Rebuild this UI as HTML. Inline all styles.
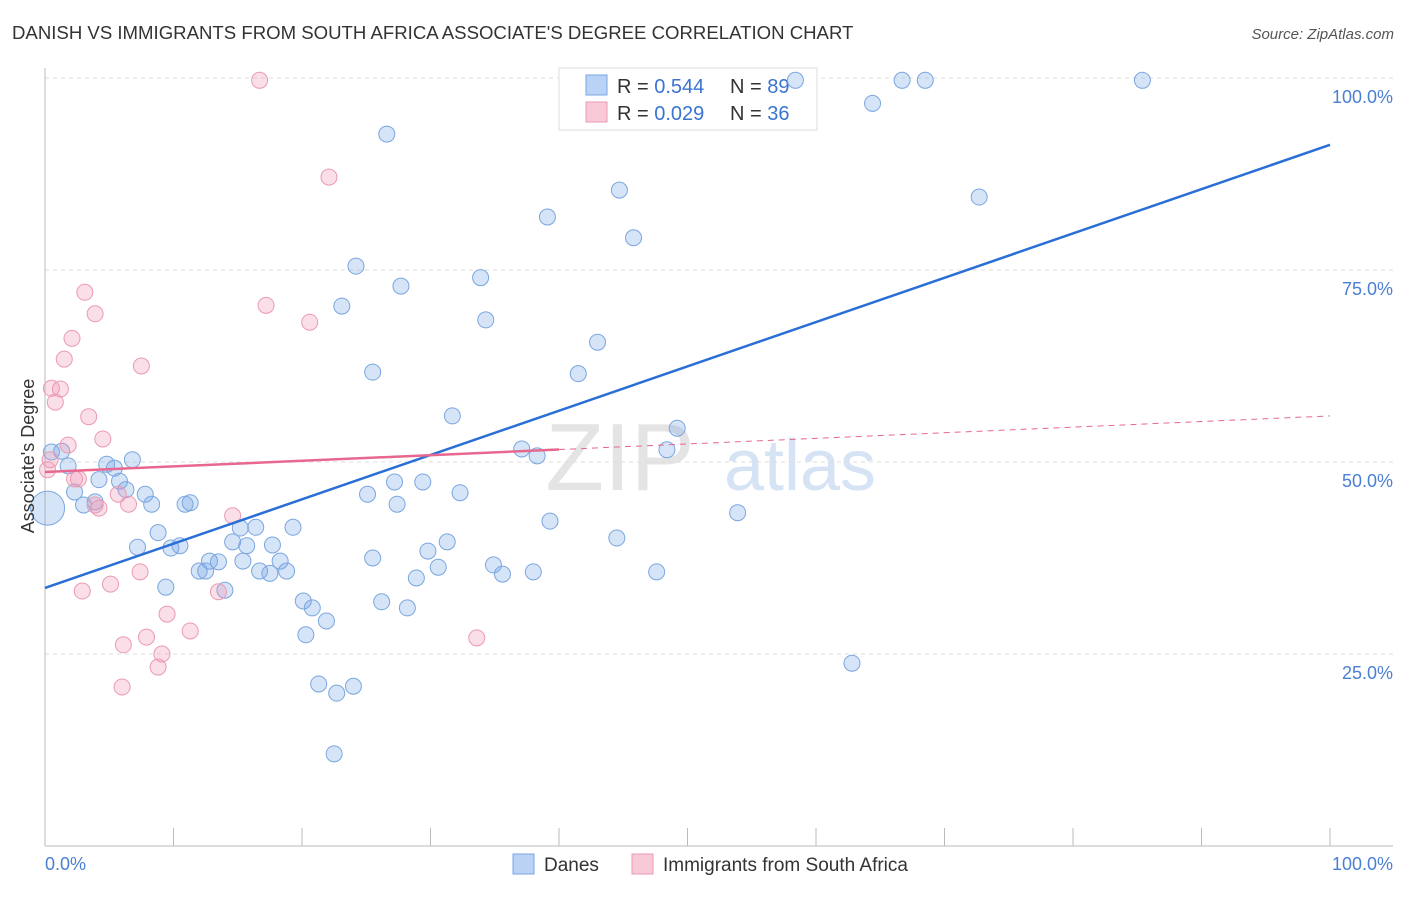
<!DOCTYPE html>
<html><head><meta charset="utf-8"><style>
body{margin:0;background:#fff;font-family:"Liberation Sans",sans-serif}
svg text{font-family:"Liberation Sans",sans-serif}
</style></head><body>
<svg id="chart" width="1406" height="892" xmlns="http://www.w3.org/2000/svg">
<text x="12" y="39" font-size="18.6" fill="#333">DANISH VS IMMIGRANTS FROM SOUTH AFRICA ASSOCIATE'S DEGREE CORRELATION CHART</text>
<text x="1394" y="39" font-size="15" fill="#555" font-style="italic" text-anchor="end">Source: ZipAtlas.com</text>
<text x="620" y="490" font-size="96" fill="#e4e4e4" font-family="Liberation Serif" text-anchor="middle">ZIP</text>
<text x="800" y="490" font-size="72" fill="#d6e3f5" text-anchor="middle">atlas</text>
<g id="grid"></g><g id="axes"></g>
<g>
<rect x="559" y="68" width="258" height="62" fill="#fff" stroke="#ddd"/>
<rect x="586" y="75" width="21" height="20" fill="#b9d2f5" stroke="#7aa6e0"/>
<rect x="586" y="102" width="21" height="20" fill="#f8c9d6" stroke="#eb9ab2"/>
<text x="617" y="93" font-size="20" fill="#333">R = <tspan fill="#3a74d0">0.544</tspan></text>
<text x="730" y="93" font-size="20" fill="#333">N = <tspan fill="#3a74d0">89</tspan></text>
<text x="617" y="120" font-size="20" fill="#333">R = <tspan fill="#3a74d0">0.029</tspan></text>
<text x="730" y="120" font-size="20" fill="#333">N = <tspan fill="#3a74d0">36</tspan></text>
</g>
<g id="pts"></g><g id="lines"></g>
<text x="0" y="0" transform="translate(34,456) rotate(-90)" font-size="18" fill="#333" text-anchor="middle">Associate's Degree</text>
<text x="45" y="870" font-size="18" fill="#4a7fd4">0.0%</text>
<text x="1393" y="870" font-size="18" fill="#4a7fd4" text-anchor="end">100.0%</text>
<g>
<rect x="513" y="854" width="21" height="20" fill="#b9d2f5" stroke="#7aa6e0"/>
<text x="544" y="871" font-size="19" fill="#333">Danes</text>
<rect x="632" y="854" width="21" height="20" fill="#f8c9d6" stroke="#eb9ab2"/>
<text x="663" y="871" font-size="19" fill="#333">Immigrants from South Africa</text>
</g>
</svg>
<script>
const blueX=[58.4,66.7,68.5,85.4,64.4,26.6,44.7,39.1,72.7,45.8,24.2,33.9,27.7,23.1,34.3,43.0,25.5,41.5,31.7,49.2,37.1,38.3,48.4,0.5,1.3,6.8,1.8,4.8,5.4,4.2,5.8,2.3,7.8,6.3,3.0,3.9,8.3,10.9,11.3,0.2,27.2,25.1,32.3,29.4,27.4,39.3,53.9,44.5,15.2,16.4,19.3,8.8,7.2,9.8,10.5,14.6,15.7,17.7,12.8,13.5,15.4,18.3,12.0,12.5,16.7,17.5,18.8,9.4,14.0,25.5,29.8,31.3,30.6,28.9,34.9,35.6,38.0,47.6,20.1,20.8,26.2,28.2,21.9,20.3,62.8,21.3,24.0,22.7,22.5];
const blueY=[99.7,99.7,99.7,99.7,96.7,92.7,85.4,81.9,84.5,79.2,75.5,74.0,72.9,70.3,68.5,65.6,61.7,61.5,56.0,54.4,51.7,50.8,51.6,51.3,51.4,50.3,49.5,49.7,49.2,47.7,47.5,46.1,45.8,46.4,44.4,44.8,44.5,44.5,44.7,44.0,47.4,45.8,46.0,47.4,44.5,42.3,43.4,40.1,41.4,41.5,41.5,40.8,38.9,38.8,39.1,39.6,39.1,39.2,37.1,37.0,37.1,37.1,35.8,35.8,35.8,35.5,35.8,33.7,33.3,37.5,38.4,39.6,36.3,34.9,36.6,35.4,35.7,35.7,31.9,31.0,31.8,31.0,29.3,27.5,23.8,21.1,20.8,19.9,12.0];
const pinkX=[16.7,22.1,3.1,3.9,17.2,20.6,2.1,7.5,1.5,0.5,1.2,0.8,3.4,1.8,4.5,0.4,2.3,2.6,5.7,6.5,4.2,3.9,14.6,13.5,7.4,5.1,2.9,9.5,11.3,7.9,6.1,9.1,8.8,6.0,33.6,0.2];
const pinkY=[99.7,87.1,72.1,69.3,70.4,68.2,66.1,62.5,63.4,59.6,59.5,57.8,55.9,52.2,53.0,50.3,47.8,47.8,45.8,44.5,44.0,44.4,43.0,33.1,35.7,34.1,33.2,30.2,28.0,27.2,26.2,25.0,23.3,20.7,27.1,49.0];
const yTicks=[25,50,75,100];
const yTickLabels=["25.0%","50.0%","75.0%","100.0%"];
const blueTrend=[33.6,91.3];
const pinkTrend=[48.7,56.0];
const pinkSolidEnd=40;
const X0=45,X1=1330,Y0=846,Y100=78;
const sx=v=>X0+(X1-X0)*v/100, sy=v=>Y0-(Y0-Y100)*v/100;
const NS="http://www.w3.org/2000/svg";
function mk(p,t,a){const e=document.createElementNS(NS,t);for(const k in a)e.setAttribute(k,a[k]);p.appendChild(e);return e;}
const g=document.getElementById('grid'),ax=document.getElementById('axes'),pts=document.getElementById('pts'),ln=document.getElementById('lines');
yTicks.forEach((t,i)=>{
 const l=mk(g,'line',{x1:45,x2:1393,y1:sy(t),y2:sy(t),stroke:'#ddd','stroke-dasharray':'4,4'});
 
 
 const tx=mk(g,'text',{x:1393,y:sy(t)+25,'font-size':18,fill:'#4a7fd4','text-anchor':'end'});
 tx.textContent=yTickLabels[i];
 
 
});
const yl=mk(ax,'line',{x1:45,x2:45,y1:68,y2:846,stroke:'#bbb'});


const xl=mk(ax,'line',{x1:45,x2:1393,y1:846,y2:846,stroke:'#bbb'});


for(let i=0;i<=10;i++){const t=mk(ax,'line',{x1:sx(i*10),x2:sx(i*10),y1:828,y2:846,stroke:'#bbb'});
 
 }
blueX.forEach((x,i)=>{const big=(x<0.5&&Math.abs(blueY[i]-44)<0.5);
 const c=mk(pts,'circle',{cx:sx(x),cy:sy(blueY[i]),r:big?17:8,fill:'rgba(120,165,230,0.3)',stroke:'#7aa6e0','stroke-width':1});
 
 });
pinkX.forEach((x,i)=>{const c=mk(pts,'circle',{cx:sx(x),cy:sy(pinkY[i]),r:8,fill:'rgba(240,150,180,0.3)',stroke:'#eb9ab2','stroke-width':1});
 
 });
const bl=mk(ln,'line',{x1:sx(0),y1:sy(blueTrend[0]),x2:sx(100),y2:sy(blueTrend[1]),stroke:'#2a6fd6','stroke-width':2.5});


const py=x=>pinkTrend[0]+(pinkTrend[1]-pinkTrend[0])*x/100;
const pl=mk(ln,'line',{x1:sx(0),y1:sy(py(0)),x2:sx(pinkSolidEnd),y2:sy(py(pinkSolidEnd)),stroke:'#e8678f','stroke-width':2.5});


const pd=mk(ln,'line',{x1:sx(pinkSolidEnd),y1:sy(py(pinkSolidEnd)),x2:sx(100),y2:sy(py(100)),stroke:'#e8678f','stroke-width':1,'stroke-dasharray':'6,5'});


</script>
</body></html>
